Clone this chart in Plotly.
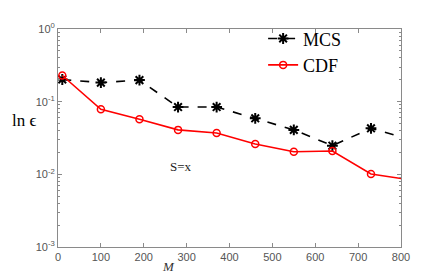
import plotly.graph_objects as go

M = [10, 100, 190, 280, 370, 460, 550, 640, 730, 820]
mcs = [0.202, 0.183, 0.198, 0.0843, 0.0843, 0.059, 0.0409, 0.0248, 0.043, 0.0303]
cdf = [0.229, 0.0786, 0.0572, 0.0409, 0.037, 0.0262, 0.0205, 0.0209, 0.0101, 0.00843]
y_tickvals = [1e-3, 1e-2, 1e-1, 1]
y_ticktext = ["10<sup>-3</sup>", "10<sup>-2</sup>", "10<sup>-1</sup>", "10<sup>0</sup>"]
x_tickvals = [0, 100, 200, 300, 400, 500, 600, 700, 800]

minor_y = [m * 10**e for e in (-3, -2, -1) for m in range(2, 10)]

fig = go.Figure()
fig.add_trace(go.Scatter(
    x=M, y=mcs, name="MCS", mode="lines+markers",
    line=dict(color="black", dash="dash", width=1.6),
    marker=dict(symbol="asterisk-open", size=9, color="black", line=dict(width=2, color="black")),
    cliponaxis=True,
))
fig.add_trace(go.Scatter(
    x=M, y=cdf, name="CDF", mode="lines+markers",
    line=dict(color="#ff0000", width=1.6),
    marker=dict(symbol="circle-open", size=7, color="#ff0000", line=dict(width=1.5, color="#ff0000")),
    cliponaxis=True,
))

axis_col = "#8a8a8a"
tickfont = dict(family="Liberation Sans, Arial", size=11, color="#555555")
serif = "Liberation Serif"

fig.update_layout(
    width=435, height=269,
    margin=dict(l=50, r=42, t=12, b=30),
    paper_bgcolor="white", plot_bgcolor="white",
    showlegend=True,
    legend=dict(x=0.598, y=1.04, xanchor="left", yanchor="top",
                bgcolor="rgba(0,0,0,0)", borderwidth=0,
                font=dict(family=serif, size=18, color="black"),
                tracegroupgap=0, itemwidth=30),
    xaxis=dict(range=[0, 800], tickvals=x_tickvals, ticks="inside", ticklen=4,
               tickcolor=axis_col, showline=True, linecolor=axis_col, linewidth=1,
               mirror="ticks", showgrid=False, zeroline=False, tickfont=tickfont),
    yaxis=dict(type="log", range=[-3, 0], tickvals=y_tickvals, ticktext=y_ticktext,
               ticks="inside", ticklen=4, tickcolor=axis_col, showline=True,
               linecolor=axis_col, linewidth=1, mirror="ticks", showgrid=False,
               zeroline=False, tickfont=tickfont,
               minor=dict(tickvals=minor_y, ticks="inside", ticklen=2, tickcolor=axis_col, showgrid=False)),
)

fig.add_annotation(xref="paper", yref="paper", x=-0.058, y=0.58, text="ln ϵ",
                   showarrow=False, xanchor="right", yanchor="middle",
                   font=dict(family=serif, size=17, color="black"))
fig.add_annotation(xref="paper", yref="paper", x=0.321, y=-0.045, text="<i>M</i>",
                   showarrow=False, xanchor="center", yanchor="top",
                   font=dict(family=serif, size=13, color="#333333"))
fig.add_annotation(xref="paper", yref="paper", x=0.359, y=0.369, text="S=x",
                   showarrow=False, xanchor="center", yanchor="middle",
                   font=dict(family=serif, size=13, color="#222222"))

fig.write_html("out.html")
